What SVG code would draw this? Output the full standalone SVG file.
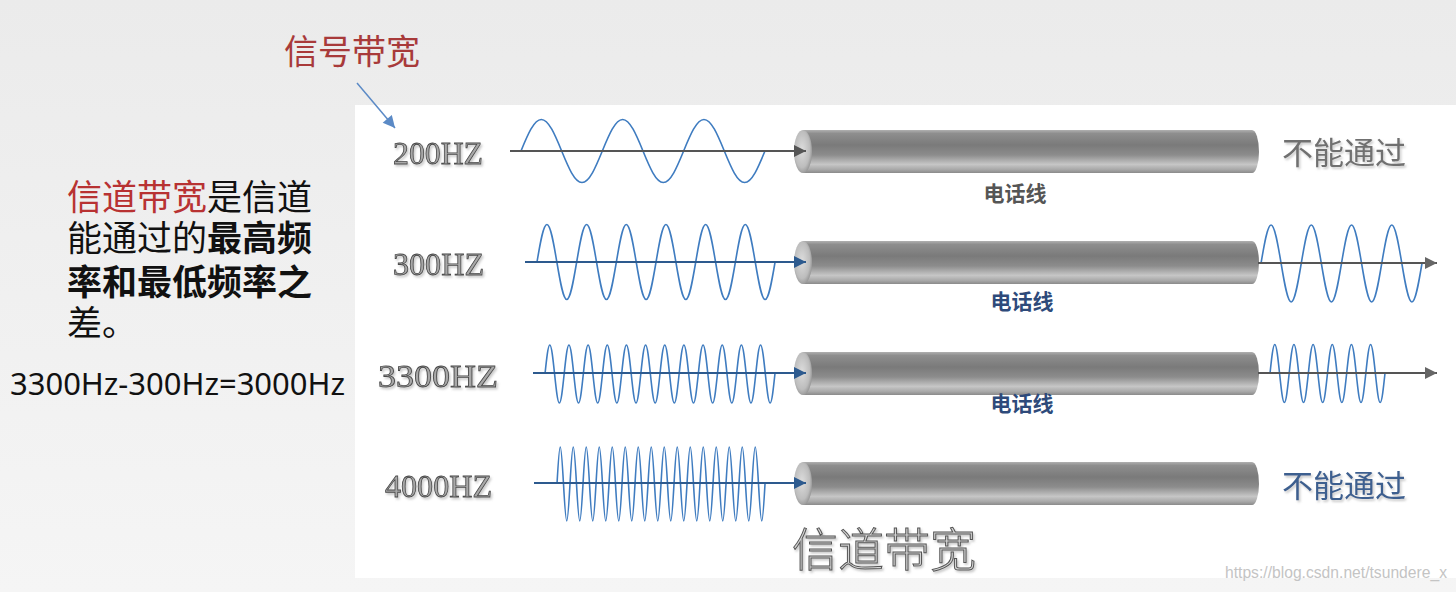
<svg xmlns="http://www.w3.org/2000/svg" width="1456" height="592" viewBox="0 0 1456 592">
<style>
.cjk{font-family:"Noto Sans CJK SC","Noto Sans",sans-serif}
.freq{font-family:"Liberation Serif",serif;font-size:32px;fill:#a8a8a8;stroke:#4a4a4a;stroke-width:0.8;filter:url(#sh)}
.wave{fill:none;stroke:#3f7cc0;stroke-width:1.6;vector-effect:non-scaling-stroke}
.axisG{stroke:#555;stroke-width:2;fill:none}
.axisB{stroke:#2d5a8e;stroke-width:2;fill:none}
.cable{fill:url(#cableG)}
.cap{fill:url(#capG)}
.tel{font-size:21px;font-weight:700;text-anchor:middle}
.no{font-size:31px}
</style>
<defs>
<linearGradient id="bgG" x1="0" y1="0" x2="0" y2="1">
<stop offset="0" stop-color="#ebebeb"/><stop offset="1" stop-color="#f5f5f5"/>
</linearGradient>
<linearGradient id="cableG" x1="0" y1="0" x2="0" y2="1">
<stop offset="0" stop-color="#b0b0b0"/><stop offset="0.08" stop-color="#8e8e8e"/><stop offset="0.35" stop-color="#7a7a7a"/><stop offset="0.58" stop-color="#8c8c8c"/><stop offset="0.8" stop-color="#c6c6c6"/><stop offset="0.92" stop-color="#a8a8a8"/><stop offset="1" stop-color="#8a8a8a"/>
</linearGradient>
<radialGradient id="capG" cx="0.45" cy="0.45" r="0.6">
<stop offset="0" stop-color="#dcdcdc"/><stop offset="0.7" stop-color="#bdbdbd"/><stop offset="1" stop-color="#909090"/>
</radialGradient>
<filter id="sh" x="-10%" y="-20%" width="130%" height="150%"><feDropShadow dx="1.5" dy="2" stdDeviation="1" flood-color="#888" flood-opacity="0.45"/></filter>
<marker id="ahG" viewBox="0 0 10 10" refX="10" refY="5" markerWidth="14" markerHeight="12" markerUnits="userSpaceOnUse" orient="auto"><path d="M0,0 L10,5 L0,10 Z" fill="#555"/></marker>
<marker id="ahB" viewBox="0 0 10 10" refX="10" refY="5" markerWidth="14" markerHeight="12" markerUnits="userSpaceOnUse" orient="auto"><path d="M0,0 L10,5 L0,10 Z" fill="#2d5a8e"/></marker>
<marker id="ahR" viewBox="0 0 10 10" refX="10" refY="5" markerWidth="14" markerHeight="12" markerUnits="userSpaceOnUse" orient="auto"><path d="M0,0 L10,5 L0,10 Z" fill="#666"/></marker>
<marker id="ahP" viewBox="0 0 10 10" refX="10" refY="5" markerWidth="14" markerHeight="12" markerUnits="userSpaceOnUse" orient="auto"><path d="M0,0 L10,5 L0,10 Z" fill="#5b8ac6"/></marker>
</defs>

<rect x="0" y="0" width="1456" height="592" fill="url(#bgG)"/>
<rect x="355" y="105" width="1101" height="473" fill="#ffffff"/>

<g id="title-signal-bandwidth">
<text class="cjk" x="284" y="64" font-size="34" fill="#a83a3a">信号带宽</text>
</g>

<g id="definition">
<text class="cjk" x="67" y="210" font-size="35" fill="#111"><tspan fill="#b83232">信道带宽</tspan>是信道</text>
<text class="cjk" x="67" y="251" font-size="35" fill="#111">能通过的<tspan font-weight="700">最高频</tspan></text>
<text class="cjk" x="67" y="295" font-size="35" fill="#111" font-weight="700">率和最低频率之</text>
<text class="cjk" x="67" y="336" font-size="35" fill="#111">差。</text>
<text x="10" y="395" font-family="Noto Sans, Liberation Sans, sans-serif" font-size="30" fill="#111" textLength="335" lengthAdjust="spacingAndGlyphs">3300Hz-300Hz=3000Hz</text>
</g>

<g id="row-200">
<text class="freq" x="393" y="164" textLength="90" lengthAdjust="spacingAndGlyphs">200HZ</text>
<path class="wave" transform="translate(521,151) scale(2.033,3.15)" d="M0,0 c3.26,-5.12 6.38,-10 10,-10 s6.74,4.88 10,10 s6.38,10 10,10 s6.74,-4.88 10,-10 s6.38,-10 10,-10 s6.74,4.88 10,10 s6.38,10 10,10 s6.74,-4.88 10,-10 s6.38,-10 10,-10 s6.74,4.88 10,10 s6.38,10 10,10 s6.74,-4.88 10,-10"/>
<path class="cable" d="M803,130 H1252 A7,21.5 0 0 1 1252,173 H803 Z"/>
<ellipse class="cap" cx="803" cy="151.5" rx="9" ry="21.5"/>
<text class="cjk tel" x="1015" y="201" fill="#555">电话线</text>
<text class="cjk no" x="1282" y="164" fill="#707070" filter="url(#sh)">不能通过</text>
</g>

<g id="row-300">
<text class="freq" x="393" y="275" textLength="91" lengthAdjust="spacingAndGlyphs">300HZ</text>
<path class="wave" transform="translate(537,262) scale(0.992,3.75)" d="M0,0 c3.26,-5.12 6.38,-10 10,-10 s6.74,4.88 10,10 s6.38,10 10,10 s6.74,-4.88 10,-10 s6.38,-10 10,-10 s6.74,4.88 10,10 s6.38,10 10,10 s6.74,-4.88 10,-10 s6.38,-10 10,-10 s6.74,4.88 10,10 s6.38,10 10,10 s6.74,-4.88 10,-10 s6.38,-10 10,-10 s6.74,4.88 10,10 s6.38,10 10,10 s6.74,-4.88 10,-10 s6.38,-10 10,-10 s6.74,4.88 10,10 s6.38,10 10,10 s6.74,-4.88 10,-10 s6.38,-10 10,-10 s6.74,4.88 10,10 s6.38,10 10,10 s6.74,-4.88 10,-10"/>
<path class="cable" d="M803,241 H1252 A7,21.5 0 0 1 1252,284 H803 Z"/>
<ellipse class="cap" cx="803" cy="262.5" rx="9" ry="21.5"/>
<path class="wave" transform="translate(1261,263.5) scale(1.006,3.85)" d="M0,0 c3.26,-5.12 6.38,-10 10,-10 s6.74,4.88 10,10 s6.38,10 10,10 s6.74,-4.88 10,-10 s6.38,-10 10,-10 s6.74,4.88 10,10 s6.38,10 10,10 s6.74,-4.88 10,-10 s6.38,-10 10,-10 s6.74,4.88 10,10 s6.38,10 10,10 s6.74,-4.88 10,-10 s6.38,-10 10,-10 s6.74,4.88 10,10 s6.38,10 10,10 s6.74,-4.88 10,-10"/>
<text class="cjk tel" x="1022" y="309" fill="#2e4a7a">电话线</text>
</g>

<g id="row-3300">
<text class="freq" x="378" y="387" textLength="120" lengthAdjust="spacingAndGlyphs">3300HZ</text>
<path class="wave" transform="translate(545,374) scale(0.479,2.9)" d="M0,0 c3.26,-5.12 6.38,-10 10,-10 s6.74,4.88 10,10 s6.38,10 10,10 s6.74,-4.88 10,-10 s6.38,-10 10,-10 s6.74,4.88 10,10 s6.38,10 10,10 s6.74,-4.88 10,-10 s6.38,-10 10,-10 s6.74,4.88 10,10 s6.38,10 10,10 s6.74,-4.88 10,-10 s6.38,-10 10,-10 s6.74,4.88 10,10 s6.38,10 10,10 s6.74,-4.88 10,-10 s6.38,-10 10,-10 s6.74,4.88 10,10 s6.38,10 10,10 s6.74,-4.88 10,-10 s6.38,-10 10,-10 s6.74,4.88 10,10 s6.38,10 10,10 s6.74,-4.88 10,-10 s6.38,-10 10,-10 s6.74,4.88 10,10 s6.38,10 10,10 s6.74,-4.88 10,-10 s6.38,-10 10,-10 s6.74,4.88 10,10 s6.38,10 10,10 s6.74,-4.88 10,-10 s6.38,-10 10,-10 s6.74,4.88 10,10 s6.38,10 10,10 s6.74,-4.88 10,-10 s6.38,-10 10,-10 s6.74,4.88 10,10 s6.38,10 10,10 s6.74,-4.88 10,-10 s6.38,-10 10,-10 s6.74,4.88 10,10 s6.38,10 10,10 s6.74,-4.88 10,-10 s6.38,-10 10,-10 s6.74,4.88 10,10 s6.38,10 10,10 s6.74,-4.88 10,-10"/>
<path class="cable" d="M803,352 H1252 A7,21.5 0 0 1 1252,395 H803 Z"/>
<ellipse class="cap" cx="803" cy="373.5" rx="9" ry="21.5"/>
<path class="wave" transform="translate(1270,373.5) scale(0.479,2.9)" d="M0,0 c3.26,-5.12 6.38,-10 10,-10 s6.74,4.88 10,10 s6.38,10 10,10 s6.74,-4.88 10,-10 s6.38,-10 10,-10 s6.74,4.88 10,10 s6.38,10 10,10 s6.74,-4.88 10,-10 s6.38,-10 10,-10 s6.74,4.88 10,10 s6.38,10 10,10 s6.74,-4.88 10,-10 s6.38,-10 10,-10 s6.74,4.88 10,10 s6.38,10 10,10 s6.74,-4.88 10,-10 s6.38,-10 10,-10 s6.74,4.88 10,10 s6.38,10 10,10 s6.74,-4.88 10,-10 s6.38,-10 10,-10 s6.74,4.88 10,10 s6.38,10 10,10 s6.74,-4.88 10,-10"/>
<text class="cjk tel" x="1022" y="411" fill="#2e4a7a">电话线</text>
</g>

<g id="row-4000">
<text class="freq" x="385" y="497" textLength="107" lengthAdjust="spacingAndGlyphs">4000HZ</text>
<path class="wave" transform="translate(557,484) scale(0.325,3.7)" d="M0,0 c3.26,-5.12 6.38,-10 10,-10 s6.74,4.88 10,10 s6.38,10 10,10 s6.74,-4.88 10,-10 s6.38,-10 10,-10 s6.74,4.88 10,10 s6.38,10 10,10 s6.74,-4.88 10,-10 s6.38,-10 10,-10 s6.74,4.88 10,10 s6.38,10 10,10 s6.74,-4.88 10,-10 s6.38,-10 10,-10 s6.74,4.88 10,10 s6.38,10 10,10 s6.74,-4.88 10,-10 s6.38,-10 10,-10 s6.74,4.88 10,10 s6.38,10 10,10 s6.74,-4.88 10,-10 s6.38,-10 10,-10 s6.74,4.88 10,10 s6.38,10 10,10 s6.74,-4.88 10,-10 s6.38,-10 10,-10 s6.74,4.88 10,10 s6.38,10 10,10 s6.74,-4.88 10,-10 s6.38,-10 10,-10 s6.74,4.88 10,10 s6.38,10 10,10 s6.74,-4.88 10,-10 s6.38,-10 10,-10 s6.74,4.88 10,10 s6.38,10 10,10 s6.74,-4.88 10,-10 s6.38,-10 10,-10 s6.74,4.88 10,10 s6.38,10 10,10 s6.74,-4.88 10,-10 s6.38,-10 10,-10 s6.74,4.88 10,10 s6.38,10 10,10 s6.74,-4.88 10,-10 s6.38,-10 10,-10 s6.74,4.88 10,10 s6.38,10 10,10 s6.74,-4.88 10,-10 s6.38,-10 10,-10 s6.74,4.88 10,10 s6.38,10 10,10 s6.74,-4.88 10,-10 s6.38,-10 10,-10 s6.74,4.88 10,10 s6.38,10 10,10 s6.74,-4.88 10,-10 s6.38,-10 10,-10 s6.74,4.88 10,10 s6.38,10 10,10 s6.74,-4.88 10,-10 s6.38,-10 10,-10 s6.74,4.88 10,10 s6.38,10 10,10 s6.74,-4.88 10,-10"/>
<path class="cable" d="M803,462 H1252 A7,21.5 0 0 1 1252,505 H803 Z"/>
<ellipse class="cap" cx="803" cy="483.5" rx="9" ry="21.5"/>
<text class="cjk no" x="1282" y="497" fill="#3d5f8f" filter="url(#sh)">不能通过</text>
</g>

<g id="caption-channel-bandwidth">
<text class="cjk" x="792" y="566" font-size="46" font-weight="300" fill="#d4d4d4" stroke="#555" stroke-width="1" filter="url(#sh)">信道带宽</text>
</g>

<g id="watermark">
<text x="1225" y="578" font-family="Liberation Sans, sans-serif" font-size="16" fill="#c4c4c4" textLength="222" lengthAdjust="spacingAndGlyphs">https://blog.csdn.net/tsundere_x</text>
</g>

<g id="connectors">
<line x1="357" y1="83" x2="395" y2="128" stroke="#5b8ac6" stroke-width="1.5" marker-end="url(#ahP)"/>
<line class="axisG" x1="510" y1="151" x2="806" y2="151" marker-end="url(#ahG)"/>
<line class="axisB" x1="525" y1="262" x2="806" y2="262" marker-end="url(#ahB)"/>
<line class="axisG" x1="1258" y1="263" x2="1437" y2="263" stroke="#666" marker-end="url(#ahR)"/>
<line class="axisB" x1="533" y1="373" x2="806" y2="373" marker-end="url(#ahB)"/>
<line class="axisG" x1="1258" y1="373" x2="1437" y2="373" stroke="#666" marker-end="url(#ahR)"/>
<line class="axisB" x1="534" y1="483" x2="806" y2="483" marker-end="url(#ahB)"/>
</g>
</svg>
